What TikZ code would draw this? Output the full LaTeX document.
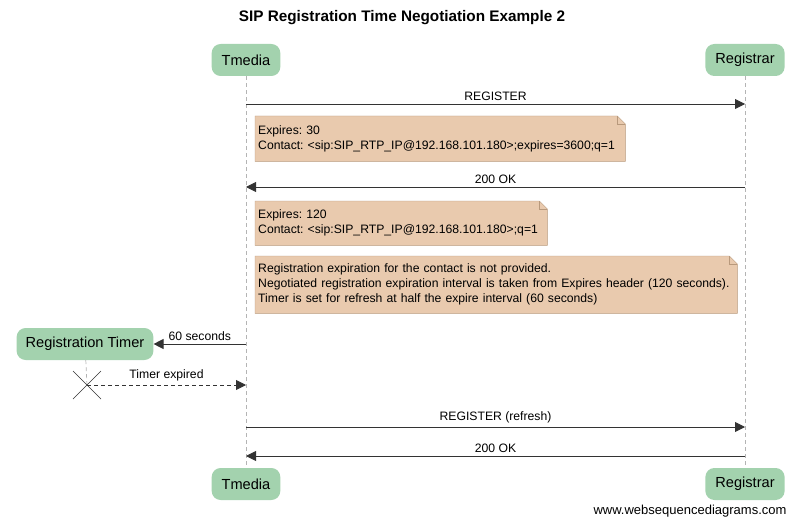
\documentclass[tikz,border=0pt]{standalone}
\usepackage{fontspec}
\setmainfont{Liberation Sans}
\usepackage{tikz}
\usetikzlibrary{arrows.meta,backgrounds}
\definecolor{wsdGreen}{HTML}{A3D2AE}
\definecolor{wsdNote}{HTML}{E9CAAE}
\definecolor{wsdNoteLine}{HTML}{B8997C}
\definecolor{wsdLife}{HTML}{B4B4B4}
\definecolor{wsdLine}{HTML}{333333}
\frenchspacing

\begin{document}
\begin{tikzpicture}[x=1pt,y=-1pt,
  actor/.style={fill=wsdGreen,rounded corners=9pt,minimum height=32pt,inner xsep=10pt,font=\fontsize{14.6}{16}\selectfont},
  note/.style={anchor=north west,align=left,inner xsep=3pt,font=\fontsize{12.2}{15}\selectfont},
  msg/.style={wsdLine,line width=0.9pt,-{Triangle[length=10pt,width=10pt]}},
  lbl/.style={black,above=0pt,font=\fontsize{12.2}{14}\selectfont},
  lifeline/.style={wsdLife,line width=0.7pt,dash pattern=on 4pt off 3pt}]
  \useasboundingbox (0,0) rectangle (800,524);
  \node[font=\bfseries\fontsize{15.3}{18}\selectfont] (title) at (402,18) {SIP Registration Time Negotiation Example 2};
  \node[actor] (tm) at (246,60) {Tmedia};
  \node[actor] (rg) at (745,60) {Registrar};
  \node[actor] (tmb) at (246,484) {Tmedia};
  \node[actor] (rgb) at (745,484) {Registrar};
  \node[actor,inner xsep=9pt] (timer) at (85,344) {Registration Timer};
  \coordinate (xend) at (87,385);
  \draw[lifeline] (tm) -- (tmb);
  \draw[lifeline] (rg) -- (rgb);
  \draw[lifeline] (timer) -- (xend);

  % rows of the messages
  \coordinate (r1) at (0,104);
  \coordinate (r2) at (0,187);
  \coordinate (r3) at (0,427);
  \coordinate (r4) at (0,456);

  \node[note,text width=364pt,minimum height=45pt] (n1) at (255,116) {Expires: 30\\Contact: <sip:SIP\_RTP\_IP@192.168.101.180>;expires=3600;q=1};
  \node[note,text width=286pt,minimum height=44pt] (n2) at (255,201) {Expires: 120\\Contact: <sip:SIP\_RTP\_IP@192.168.101.180>;q=1};
  \node[note,text width=476pt,minimum height=57pt] (n3) at (255,256) {Registration expiration for the contact is not provided.\\Negotiated registration expiration interval is taken from Expires header (120 seconds).\\Timer is set for refresh at half the expire interval (60 seconds)};
  \begin{pgfonlayer}{background}
    \foreach \n in {n1,n2,n3} {
      \draw[wsdNoteLine,fill=wsdNote] (\n.north west) -- ([xshift=-8pt]\n.north east) -- ([yshift=-8pt]\n.north east) -- (\n.south east) -- (\n.south west) -- cycle;
      \draw[wsdNoteLine] ([xshift=-8pt]\n.north east) -- ([xshift=-8pt,yshift=-8pt]\n.north east) -- ([yshift=-8pt]\n.north east);
    }
  \end{pgfonlayer}

  \draw[msg] (tm |- r1) -- node[lbl] {REGISTER} (rg |- r1);
  \draw[msg] (rg |- r2) -- node[lbl] {200 OK} (tm |- r2);
  \draw[msg] (tm |- timer) -- node[lbl] {60 seconds} (timer.east);
  \draw[msg,dash pattern=on 4pt off 3pt] (xend) -- node[lbl] {Timer expired} (tm |- xend);
  \draw[wsdLine,line width=0.7pt] (xend) +(-14,-14) -- +(14,14) +(-14,14) -- +(14,-14);
  \draw[msg] (tm |- r3) -- node[lbl] {REGISTER (refresh)} (rg |- r3);
  \draw[msg] (rg |- r4) -- node[lbl] {200 OK} (tm |- r4);

  \node[anchor=east,font=\fontsize{13}{14}\selectfont] (wsd) at (790,511) {www.websequencediagrams.com};
\end{tikzpicture}
\end{document}
